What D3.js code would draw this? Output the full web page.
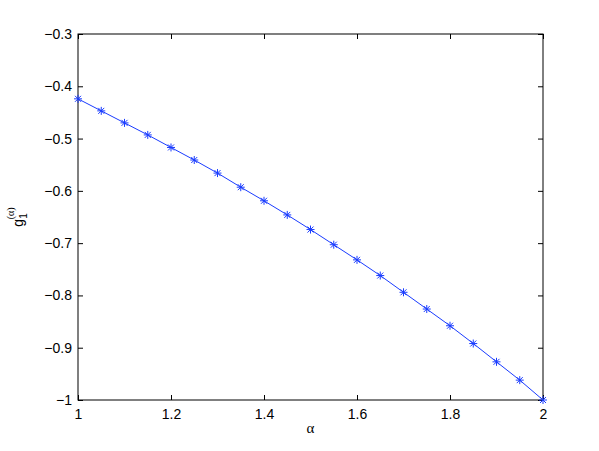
<!DOCTYPE html>
<html>
<head>
<meta charset="utf-8">
<script src="https://cdn.jsdelivr.net/npm/d3@7"></script>
<style>
  body { margin: 0; background: #fff; }
  text { font-family: "Liberation Sans", Arial, sans-serif; }
</style>
</head>
<body>
<svg id="chart" width="599" height="451"></svg>
<script>
// alpha values and g_1^(alpha)
var alphas = [1, 1.05, 1.1, 1.15, 1.2, 1.25, 1.3, 1.35, 1.4, 1.45, 1.5,
              1.55, 1.6, 1.65, 1.7, 1.75, 1.8, 1.85, 1.9, 1.95, 2];
var gValues = [-0.424, -0.447, -0.470, -0.493, -0.517, -0.541, -0.566, -0.593, -0.619, -0.646, -0.674,
               -0.703, -0.732, -0.762, -0.794, -0.826, -0.858, -0.892, -0.927, -0.962, -1.0];
var xTicks = [1, 1.2, 1.4, 1.6, 1.8, 2];
var yTicks = [-1, -0.9, -0.8, -0.7, -0.6, -0.5, -0.4, -0.3];

var svg = d3.select("#chart"),
    margin = {top: 34, right: 56, bottom: 51, left: 78},
    width = 599 - margin.left - margin.right,
    height = 451 - margin.top - margin.bottom;

var x = d3.scaleLinear().domain([1, 2]).range([0, width]);
var y = d3.scaleLinear().domain([-1, -0.3]).range([height, 0]);

var g = svg.append("g")
    .attr("transform", "translate(" + margin.left + "," + margin.top + ")");

var fmt = function(d) { return d3.format("")(d).replace("-", "\u2212"); };

// axes with inward ticks, mirrored on top and right
g.append("g")
    .attr("transform", "translate(0," + height + ")")
    .call(d3.axisBottom(x).tickValues(xTicks).tickSize(-5).tickPadding(9).tickFormat(fmt));
g.append("g")
    .call(d3.axisTop(x).tickValues(xTicks).tickSize(-5).tickFormat(""));
g.append("g")
    .call(d3.axisLeft(y).tickValues(yTicks).tickSize(-5).tickPadding(6).tickFormat(fmt));
g.append("g")
    .attr("transform", "translate(" + width + ",0)")
    .call(d3.axisRight(y).tickValues(yTicks).tickSize(-5).tickFormat(""));

g.selectAll(".domain").remove();
g.selectAll(".tick line").attr("stroke", "#000");
g.selectAll(".tick text")
    .attr("fill", "#000")
    .style("font-size", "14px")
    .style("font-family", "'Liberation Sans', Arial, sans-serif");

// box
g.append("rect")
    .attr("x", 0).attr("y", 0)
    .attr("width", width).attr("height", height)
    .attr("fill", "none")
    .attr("stroke", "#000")
    .attr("stroke-width", 1);

// line
var line = d3.line()
    .x(function(d, i) { return x(alphas[i]); })
    .y(function(d) { return y(d); });

g.append("path")
    .datum(gValues)
    .attr("fill", "none")
    .attr("stroke", "#1a3cff")
    .attr("stroke-width", 1)
    .attr("d", line);

// asterisk markers
var r = 4;
var marks = g.selectAll("g.mark")
    .data(gValues)
    .enter().append("g")
    .attr("class", "mark")
    .attr("transform", function(d, i) { return "translate(" + x(alphas[i]) + "," + y(d) + ")"; })
    .attr("stroke", "#1a3cff")
    .attr("stroke-width", 1);
marks.append("path")
    .attr("d", "M" + (-r) + ",0H" + r + "M0," + (-r) + "V" + r +
               "M" + (-r * 0.75) + "," + (-r * 0.75) + "L" + (r * 0.75) + "," + (r * 0.75) +
               "M" + (-r * 0.75) + "," + (r * 0.75) + "L" + (r * 0.75) + "," + (-r * 0.75));

// x label
svg.append("text")
    .attr("x", margin.left + width / 2)
    .attr("y", 433)
    .attr("text-anchor", "middle")
    .style("font-family", "'Liberation Serif', 'Times New Roman', serif")
    .style("font-size", "15px")
    .text("\u03b1");

// y label  g_1^(alpha)
var yl = svg.append("text")
    .attr("transform", "translate(23," + (margin.top + height / 2) + ")rotate(-90)")
    .attr("text-anchor", "middle")
    .style("font-size", "14px");
yl.append("tspan").text("g");
yl.append("tspan").attr("dy", 4).style("font-size", "10px").text("1");
yl.append("tspan").attr("dx", -6).attr("dy", -13).style("font-size", "10px")
    .style("font-family", "'Liberation Serif', serif").text("(\u03b1)");
</script>
</body>
</html>
